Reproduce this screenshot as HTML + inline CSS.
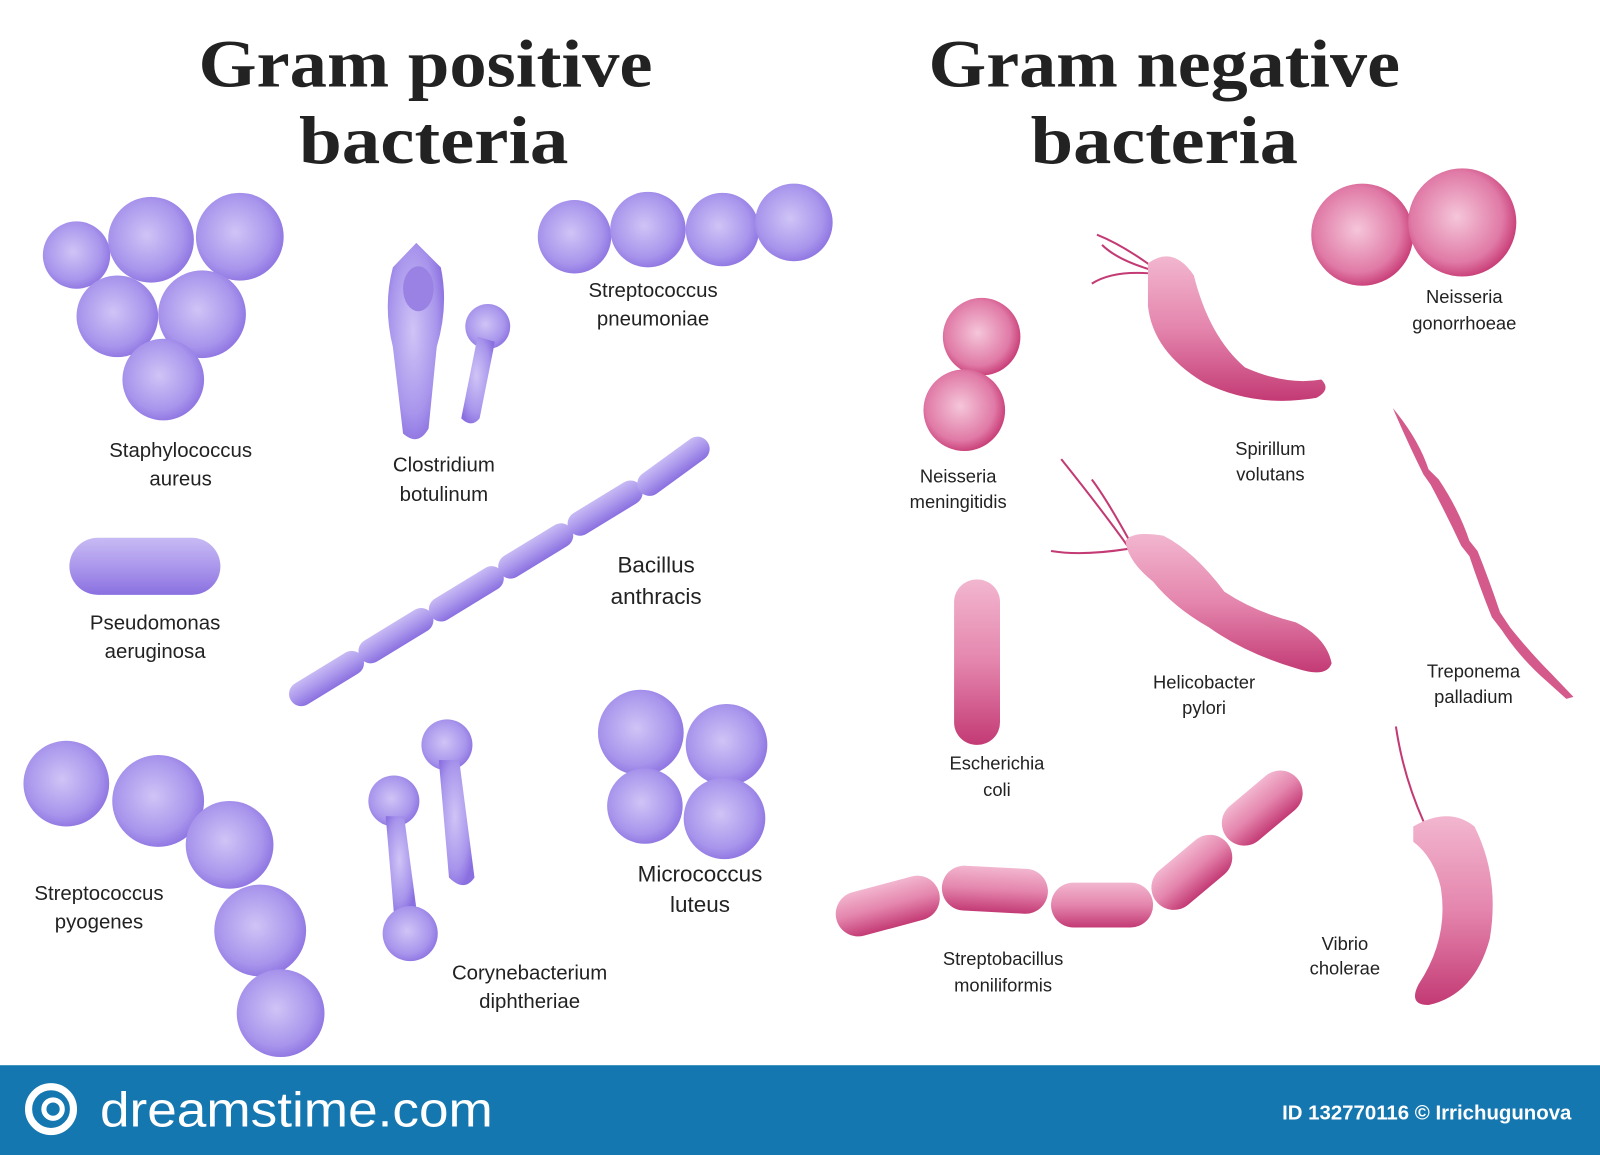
<!DOCTYPE html>
<html><head><meta charset="utf-8"><style>
html,body{margin:0;padding:0;background:#fff;}
svg{display:block;}
.t{font-family:"Liberation Serif",serif;font-weight:bold;font-size:66px;fill:#222;text-anchor:middle;}
.l{font-family:"Liberation Sans",sans-serif;font-size:20px;fill:#222;text-anchor:middle;}
.s{font-family:"Liberation Sans",sans-serif;font-size:18px;fill:#222;text-anchor:middle;}
</style></head><body>
<svg width="1600" height="1155" viewBox="0 0 1568 1132" preserveAspectRatio="none" xmlns="http://www.w3.org/2000/svg">
<defs>
<radialGradient id="p" cx="0.45" cy="0.45" r="0.6"><stop offset="0" stop-color="#cfc4f6"/><stop offset="0.7" stop-color="#a895ec"/><stop offset="1" stop-color="#8a6fe0"/></radialGradient>
<radialGradient id="k" cx="0.45" cy="0.45" r="0.6"><stop offset="0" stop-color="#f5c6da"/><stop offset="0.7" stop-color="#e07aa6"/><stop offset="1" stop-color="#c3306d"/></radialGradient>
<linearGradient id="kl" x1="0" y1="0" x2="0" y2="1"><stop offset="0" stop-color="#f2b6cf"/><stop offset="0.5" stop-color="#e485ad"/><stop offset="1" stop-color="#c33a74"/></linearGradient>
<linearGradient id="pl" x1="0" y1="0" x2="0" y2="1"><stop offset="0" stop-color="#c8baf4"/><stop offset="0.5" stop-color="#ab98ec"/><stop offset="1" stop-color="#8a70e0"/></linearGradient>
</defs>
<rect width="1568" height="1132" fill="#fff"/>
<text class="t" x="417" y="85" textLength="445" lengthAdjust="spacingAndGlyphs">Gram positive</text>
<text class="t" x="425" y="160" textLength="264" lengthAdjust="spacingAndGlyphs">bacteria</text>
<text class="t" x="1141" y="85" textLength="462" lengthAdjust="spacingAndGlyphs">Gram negative</text>
<text class="t" x="1141" y="160" textLength="262" lengthAdjust="spacingAndGlyphs">bacteria</text>

<g fill="url(#p)">
<circle cx="75" cy="250" r="33"/><circle cx="148" cy="235" r="42"/><circle cx="235" cy="232" r="43"/>
<circle cx="115" cy="310" r="40"/><circle cx="198" cy="308" r="43"/><circle cx="160" cy="372" r="40"/>
</g>
<text class="l" x="177" y="448">Staphylococcus</text><text class="l" x="177" y="476">aureus</text>

<path d="M408 238 L432 262 Q440 300 428 340 L420 420 Q410 438 395 425 L385 340 Q375 300 385 262 Z" fill="url(#p)"/>
<ellipse cx="410" cy="283" rx="15" ry="22" fill="#9a82e4"/>
<circle cx="478" cy="320" r="22" fill="url(#p)"/>
<path d="M468 330 L485 335 L470 410 Q462 420 452 410 Z" fill="url(#p)"/>
<text class="l" x="435" y="462">Clostridium</text><text class="l" x="435" y="491">botulinum</text>

<g fill="url(#p)">
<circle cx="563" cy="232" r="36"/><circle cx="635" cy="225" r="37"/><circle cx="708" cy="225" r="36"/><circle cx="778" cy="218" r="38"/>
</g>
<text class="l" x="640" y="291">Streptococcus</text><text class="l" x="640" y="319">pneumoniae</text>

<rect x="68" y="527" width="148" height="56" rx="28" fill="url(#pl)"/>
<text class="l" x="152" y="617">Pseudomonas</text><text class="l" x="152" y="645">aeruginosa</text>

<g fill="url(#pl)">
<rect x="-41" y="-12" width="82" height="24" rx="12" transform="translate(320,665) rotate(-31.4)"/>
<rect x="-41" y="-12" width="82" height="24" rx="12" transform="translate(388,623) rotate(-31.4)"/>
<rect x="-41" y="-12" width="82" height="24" rx="12" transform="translate(457,582) rotate(-31.4)"/>
<rect x="-41" y="-12" width="82" height="24" rx="12" transform="translate(525,540) rotate(-31.4)"/>
<rect x="-41" y="-12" width="82" height="24" rx="12" transform="translate(593,498) rotate(-31.4)"/>
<rect x="-41" y="-12" width="82" height="24" rx="12" transform="translate(660,457) rotate(-36)"/>
</g>
<text class="l" x="643" y="561" style="font-size:22px">Bacillus</text><text class="l" x="643" y="592" style="font-size:22px">anthracis</text>

<g fill="url(#p)">
<circle cx="65" cy="768" r="42"/><circle cx="155" cy="785" r="45"/><circle cx="225" cy="828" r="43"/><circle cx="255" cy="912" r="45"/><circle cx="275" cy="993" r="43"/>
</g>
<text class="l" x="97" y="882">Streptococcus</text><text class="l" x="97" y="910">pyogenes</text>

<g fill="url(#p)">
<circle cx="386" cy="785" r="25"/><path d="M378 800 L396 800 L408 890 L386 895 Z"/><circle cx="402" cy="915" r="27"/>
<circle cx="438" cy="730" r="25"/><path d="M430 745 L450 745 L465 860 Q455 875 440 860 Z"/>
</g>
<text class="l" x="519" y="960">Corynebacterium</text><text class="l" x="519" y="988">diphtheriae</text>

<g fill="url(#p)">
<circle cx="628" cy="718" r="42"/><circle cx="712" cy="730" r="40"/><circle cx="632" cy="790" r="37"/><circle cx="710" cy="802" r="40"/>
</g>
<text class="l" x="686" y="864" style="font-size:22px">Micrococcus</text><text class="l" x="686" y="894" style="font-size:22px">luteus</text>

<g fill="url(#k)"><circle cx="1335" cy="230" r="50"/><circle cx="1433" cy="218" r="53"/></g>
<text class="s" x="1435" y="297">Neisseria</text><text class="s" x="1435" y="323">gonorrhoeae</text>

<g fill="url(#k)"><circle cx="962" cy="330" r="38"/><circle cx="945" cy="402" r="40"/></g>
<text class="s" x="939" y="473">Neisseria</text><text class="s" x="939" y="498">meningitidis</text>

<g stroke="#c33a74" stroke-width="2" fill="none">
<path d="M1130 262 Q1100 240 1075 230"/><path d="M1130 265 Q1095 255 1080 240"/><path d="M1128 268 Q1090 265 1070 278"/>
</g>
<path d="M1125 258 Q1150 240 1170 270 Q1185 330 1220 360 Q1260 378 1295 372 Q1305 382 1290 390 Q1230 400 1180 375 Q1130 345 1125 300 Z" fill="url(#kl)"/>
<text class="s" x="1245" y="446">Spirillum</text><text class="s" x="1245" y="471">volutans</text>

<path d="M1365 400 Q1390 430 1400 460 L1410 470 Q1430 500 1440 530 L1448 540 Q1460 570 1470 600 L1480 615 Q1500 640 1520 660 L1542 683 L1535 685 L1515 667 Q1490 645 1472 618 L1462 605 Q1450 575 1440 545 L1432 535 Q1418 505 1402 475 L1395 465 Q1380 435 1365 400 Z" fill="#d45a8c"/>
<text class="s" x="1444" y="664">Treponema</text><text class="s" x="1444" y="689">palladium</text>

<g stroke="#c33a74" stroke-width="2" fill="none">
<path d="M1105 535 Q1080 500 1040 450"/><path d="M1108 532 Q1085 490 1070 470"/><path d="M1105 538 Q1060 545 1030 540"/>
</g>
<path d="M1103 530 Q1110 520 1140 525 Q1170 540 1200 580 Q1230 600 1270 610 Q1300 625 1305 650 Q1300 665 1270 655 Q1220 640 1185 615 Q1150 595 1130 570 Q1105 550 1103 530 Z" fill="url(#kl)"/>
<text class="s" x="1180" y="675">Helicobacter</text><text class="s" x="1180" y="700">pylori</text>

<rect x="935" y="568" width="45" height="162" rx="22" fill="url(#kl)"/>
<text class="s" x="977" y="754">Escherichia</text><text class="s" x="977" y="780">coli</text>

<g fill="url(#kl)">
<rect x="-52" y="-22" width="104" height="44" rx="22" transform="translate(870,888) rotate(-15)"/>
<rect x="-52" y="-22" width="104" height="44" rx="22" transform="translate(975,872) rotate(3)"/>
<rect x="-50" y="-22" width="100" height="44" rx="22" transform="translate(1080,887) rotate(0)"/>
<rect x="-45" y="-22" width="90" height="44" rx="22" transform="translate(1168,855) rotate(-40)"/>
<rect x="-45" y="-22" width="90" height="44" rx="22" transform="translate(1237,792) rotate(-40)"/>
</g>
<text class="s" x="983" y="946">Streptobacillus</text><text class="s" x="983" y="972">moniliformis</text>

<path d="M1368 712 Q1375 760 1395 805" stroke="#c33a74" stroke-width="2" fill="none"/>
<path d="M1385 810 Q1420 790 1445 810 Q1470 860 1460 920 Q1445 975 1400 985 Q1380 985 1390 965 Q1420 920 1412 870 Q1405 840 1385 825 Z" fill="url(#kl)"/>
<text class="s" x="1318" y="931">Vibrio</text><text class="s" x="1318" y="955">cholerae</text>

<rect x="0" y="1044" width="1568" height="88" fill="#1477b0"/>
<circle cx="50" cy="1087" r="22" fill="none" stroke="#fff" stroke-width="7"/>
<circle cx="52" cy="1087" r="9" fill="none" stroke="#fff" stroke-width="5"/>
<text x="98" y="1104" font-family="Liberation Sans, sans-serif" font-size="48" fill="#fff" textLength="385" lengthAdjust="spacingAndGlyphs">dreamstime.com</text>
<text x="1540" y="1097" text-anchor="end" font-family="Liberation Sans, sans-serif" font-weight="bold" font-size="20" fill="#fff">ID 132770116 © Irrichugunova</text>
</svg>
</body></html>
